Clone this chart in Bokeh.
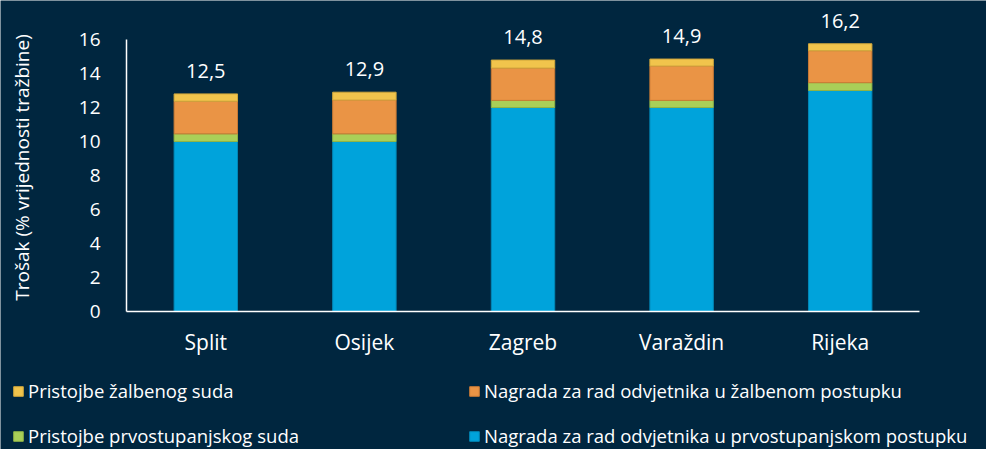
from math import pi
from bokeh.plotting import figure
from bokeh.models import (ColumnDataSource, Range1d, Legend, LegendItem, FixedTicker,
                          LinearAxis, Label)
from bokeh.core.properties import value
from bokeh.embed import file_html
from bokeh.resources import INLINE

cities = ["Split", "Osijek", "Zagreb", "Varaždin", "Rijeka"]
prvostupanjski_odvjetnik = [10.0, 10.0, 12.0, 12.0, 13.0]
prvostupanjski_sud = [0.45, 0.45, 0.42, 0.42, 0.46]
zalbeni_odvjetnik = [1.92, 1.99, 1.90, 2.02, 1.88]
zalbeni_sud = [0.43, 0.46, 0.47, 0.41, 0.41]
total_labels = ["12,5", "12,9", "14,8", "14,9", "16,2"]
y_ticks = [0, 2, 4, 6, 8, 10, 12, 14, 16]
y_title = "Trošak (% vrijednosti tražbine)"

series = ["po", "ps", "zo", "zs"]
names = {
    "zs": "Pristojbe žalbenog suda",
    "zo": "Nagrada za rad odvjetnika u žalbenom postupku",
    "ps": "Pristojbe prvostupanjskog suda",
    "po": "Nagrada za rad odvjetnika u prvostupanjskom postupku",
}
fill = {"po": "#00a3db", "ps": "#a9cf58", "zo": "#ea9445", "zs": "#f1c44c"}
edge = {"po": "#0088b8", "ps": "#8fb346", "zo": "#c97a35", "zs": "#d0a73c"}

xpos = [i + 0.5 for i in range(len(cities))]
tops = [a + b + c + d for a, b, c, d in zip(prvostupanjski_odvjetnik, prvostupanjski_sud,
                                              zalbeni_odvjetnik, zalbeni_sud)]
src = ColumnDataSource(dict(x=xpos, po=prvostupanjski_odvjetnik, ps=prvostupanjski_sud,
                            zo=zalbeni_odvjetnik, zs=zalbeni_sud, top=tops, lab=total_labels))

BG = "#00263f"
FONT = "Open Sans"

W, H = 986, 449
fx0, fx1, fy0, fy16 = 126, 919, 311, 39
xu = (fx1 - fx0) / len(cities)
yu = (fy0 - fy16) / 16.0
x_range = Range1d(-fx0 / xu, len(cities) + (W - fx1) / xu)
y_range = Range1d(-(H - fy0) / yu, 16 + fy16 / yu)

p = figure(x_range=x_range, y_range=y_range, width=W, height=H,
           output_backend="svg", toolbar_location=None, min_border=0,
           x_axis_type=None, y_axis_type=None)
p.background_fill_color = BG
p.border_fill_color = BG
p.outline_line_color = None
p.grid.visible = False

rs = p.vbar_stack(series, x="x", width=0.4, source=src,
                  fill_color=[fill[s] for s in series],
                  line_color=[edge[s] for s in series], line_width=1)
rmap = dict(zip(series, rs))

p.text(x="x", y="top", text="lab", source=src, text_color="white",
       text_font=value(FONT), text_font_size="20px", text_align="center",
       text_baseline="alphabetic", y_offset=-23)

yaxis = LinearAxis(fixed_location=0, bounds=(0, 16), ticker=FixedTicker(ticks=y_ticks))
xaxis = LinearAxis(fixed_location=0, bounds=(0, len(cities)), ticker=FixedTicker(ticks=xpos),
                   major_label_overrides={x: c for x, c in zip(xpos, cities)})
for ax in (xaxis, yaxis):
    ax.axis_line_color = "white"
    ax.axis_line_width = 1.5
    ax.major_tick_line_color = None
    ax.minor_tick_line_color = None
    ax.major_label_text_color = "white"
    ax.major_label_text_font = FONT

yaxis.major_label_text_font_size = "19px"
yaxis.major_label_standoff = 20
xaxis.major_label_text_font_size = "21px"
xaxis.major_label_standoff = 10

p.add_layout(yaxis, "left")
p.add_layout(xaxis, "below")

p.add_layout(Label(x=(21 - fx0) / xu, y=(fy0 - 167) / yu, text=y_title, angle=pi / 2,
                   text_align="center", text_baseline="middle", text_color="white",
                   text_font=FONT, text_font_size="19px"))

order = ["zs", "zo", "ps", "po"]
legend = Legend(items=[LegendItem(label=names[s], renderers=[rmap[s]]) for s in order],
                orientation="horizontal", nrows=2, location=(12, 1),
                glyph_width=12, glyph_height=12, label_standoff=4, label_width=420,
                label_height=22, spacing=20, padding=0, margin=0,
                label_text_color="white", label_text_font=FONT, label_text_font_size="18.5px",
                background_fill_alpha=0, border_line_alpha=0)
p.add_layout(legend, "center")

open("out.html", "w").write(file_html(p, INLINE))
